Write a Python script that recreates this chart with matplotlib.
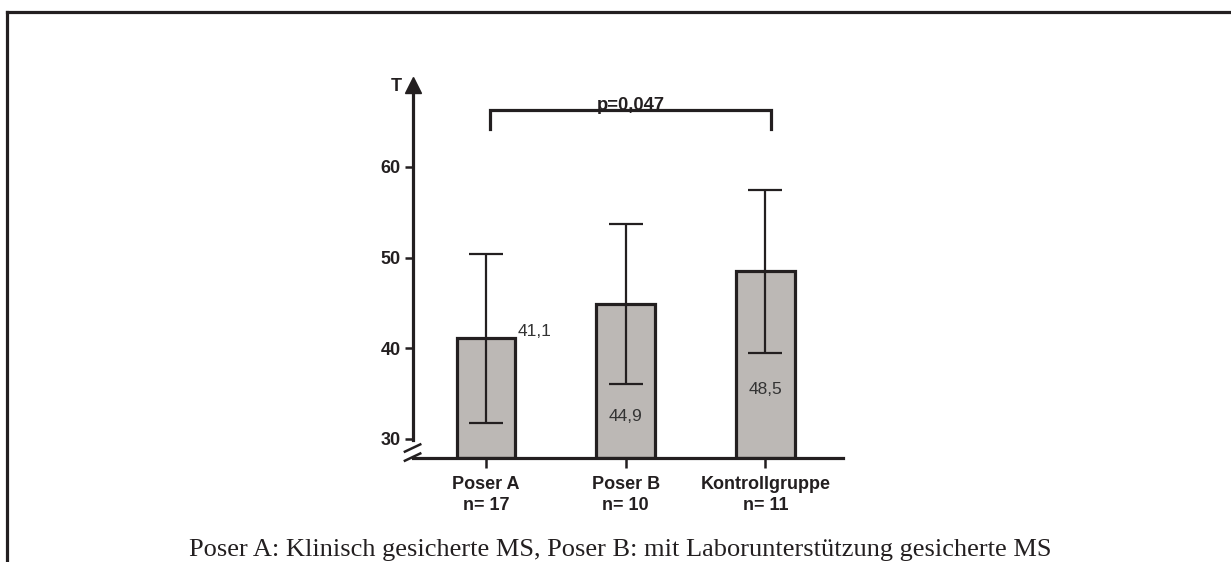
import matplotlib
matplotlib.use("Agg")
import matplotlib.pyplot as plt
from matplotlib.lines import Line2D
import numpy as np

# Data
groups = ["Poser A\nn= 17", "Poser B\nn= 10", "Kontrollgruppe\nn= 11"]
means = [41.1, 44.9, 48.5]
sds = [9.3, 8.8, 9.0]
value_labels = ["41,1", "44,9", "48,5"]
yticks = [30, 40, 50, 60]
p_text = "p=0,047"
caption = "Poser A: Klinisch gesicherte MS, Poser B: mit Laborunterstützung gesicherte MS"

W, H = 1231, 562
fig = plt.figure(figsize=(W / 100, H / 100), dpi=100)
fig.patch.set_facecolor("white")

sans = ["Liberation Sans", "DejaVu Sans"]
serif = ["Liberation Serif", "DejaVu Serif"]
ink = "#231f20"

# Axes placed in pixel terms
ax_l, ax_r, ax_b, ax_t = 413, 843, 458, 78
ax = fig.add_axes([ax_l / W, 1 - ax_b / H, (ax_r - ax_l) / W, (ax_b - ax_t) / H])
ax.set_xlim(-0.522, 2.555)
ax.set_ylim(27.9, 69.8)
ax.patch.set_alpha(0)

x = np.arange(len(groups))
bottom = 27.9
heights = [m - bottom for m in means]
ax.bar(x, heights, bottom=bottom, width=0.42, color="#bcb8b5",
       edgecolor=ink, linewidth=2.3, zorder=2)
ax.errorbar(x, means, yerr=sds, fmt="none", ecolor=ink, elinewidth=1.6,
            capsize=12.5, capthick=1.6, zorder=3)

# Mean labels
ax.text(x[0] + 0.23, means[0] + 0.7, value_labels[0], ha="left", va="center",
        fontsize=12.5, color="#333333", family=sans)
ax.text(x[1], 32.5, value_labels[1], ha="center", va="center",
        fontsize=12.5, color="#333333", family=sans)
ax.text(x[2], 35.4, value_labels[2], ha="center", va="center",
        fontsize=12.5, color="#333333", family=sans)

# Spines and ticks
for s in ["top", "right"]:
    ax.spines[s].set_visible(False)
ax.spines["left"].set_linewidth(2.3)
ax.spines["bottom"].set_linewidth(2.3)
ax.spines["left"].set_color(ink)
ax.spines["bottom"].set_color(ink)
ax.spines["left"].set_bounds(29.9, 68.8)

ax.set_yticks(yticks)
ax.set_yticklabels([str(t) for t in yticks], fontsize=13, fontweight="bold",
                   family=sans, color=ink)
ax.tick_params(axis="y", direction="out", length=6, width=1.8, pad=3, colors=ink)
ax.set_xticks(x)
ax.set_xticklabels(groups, fontsize=13, fontweight="bold", family=sans,
                   color=ink, linespacing=1.3)
ax.tick_params(axis="x", direction="out", length=7, width=1.8, pad=6, colors=ink)

# Axis break marks
for y0 in (29.0, 28.0):
    ax.plot([-0.58, -0.47], [y0 - 0.4, y0 + 0.4], color=ink, lw=1.8,
            clip_on=False, zorder=4)

# Arrow head on the y axis
ax.plot([-0.522], [69.0], marker="^", markersize=11, color=ink,
        clip_on=False, zorder=4)
ax.text(-0.64, 68.9, "T", ha="center", va="center", fontsize=13,
        fontweight="bold", family=sans, color=ink)

# Significance bracket
bx0, bx1, by, bh = x[0] + 0.03, x[2] + 0.04, 66.3, 2.1
ax.plot([bx0, bx0, bx1, bx1], [by - bh, by, by, by - bh], color=ink, lw=2.3,
        clip_on=False, solid_joinstyle="miter")
ax.text((bx0 + bx1) / 2, by - 0.05, p_text, ha="center", va="baseline",
        fontsize=13.3, fontweight="bold", family=sans, color=ink)

# Frame lines around the figure
fig.add_artist(Line2D([7 / W, 1.0], [1 - 12 / H, 1 - 12 / H], color=ink, lw=2.3))
fig.add_artist(Line2D([7 / W, 7 / W], [0, 1 - 12 / H], color=ink, lw=2.3))

# Caption
fig.text(620 / W, 1 - 556 / H, caption, ha="center", va="baseline",
         fontsize=19, family=serif, color=ink)

fig.savefig("out.png", dpi=100)
